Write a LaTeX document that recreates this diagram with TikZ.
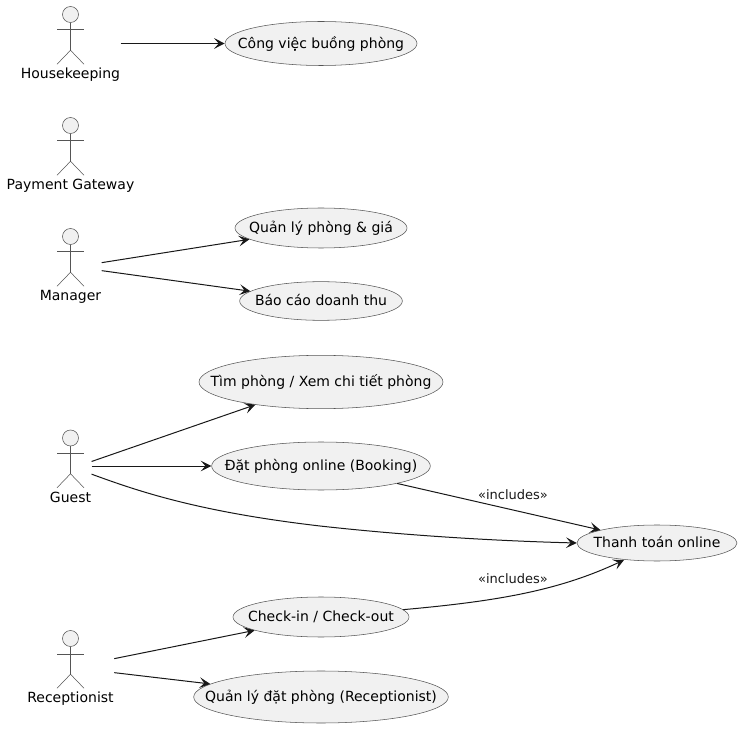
\documentclass[tikz,border=0pt]{standalone}
\usepackage{fontspec}
\setmainfont{DejaVu Sans}
\usetikzlibrary{shapes.geometric, arrows.meta, fit, calc}
\definecolor{linecolor}{HTML}{181818}
\definecolor{edgecolor}{HTML}{555555}
\definecolor{shapecolor}{HTML}{F1F1F1}

% stick figure: name, x, y of the head, label
\newcommand{\actorfig}[4]{
    \node[actorhead] (#1-head) at (#2,#3) {};
    \node[actorname] (#1-name) at (#2,#3+59.5) {#4};
    \draw[actorline] (#1-head.south) -- ++(0,27.5) coordinate (#1-hip);
    \draw[actorline] ($(#1-head.south)+(-13.5,7)$) -- ++(27,0);
    \draw[actorline] ($(#1-hip)+(-13.5,14)$) -- (#1-hip) -- ($(#1-hip)+(13.5,14)$);
    \node[fit=(#1-head)(#1-name), inner sep=0pt] (#1) {};
}

\begin{document}
\begin{tikzpicture}[
    x=0.75pt, y=-0.75pt,
    usecase/.style={ellipse, draw=edgecolor, line width=0.4pt, fill=shapecolor, inner xsep=-25pt, inner ysep=-3pt, text height=10pt, text depth=3.2pt, font=\fontsize{10.5}{12}\selectfont},
    actorhead/.style={circle, draw=edgecolor, line width=0.4pt, fill=shapecolor, minimum size=12pt, inner sep=0pt},
    actorline/.style={draw=edgecolor, line width=0.4pt},
    actorname/.style={inner sep=0pt, text height=10pt, text depth=3.2pt, font=\fontsize{10.5}{12}\selectfont},
    arrow/.style={-{Stealth[length=8pt, width=8pt, inset=3.5pt]}, draw=linecolor, line width=0.75pt},
    linklabel/.style={font=\fontsize{9.75}{11}\selectfont, text=linecolor, inner sep=0pt}
]
    \useasboundingbox (0,0) rectangle (740,731);

    \actorfig{house}{70.5}{14.5}{Housekeeping}
    \actorfig{gateway}{70.5}{125.5}{Payment Gateway}
    \actorfig{manager}{70.5}{236.5}{Manager}
    \actorfig{guest}{70.5}{438}{Guest}
    \actorfig{recept}{70.5}{638.5}{Receptionist}

    \node[usecase, minimum width=144pt, minimum height=33pt] (chores) at (321,43.5) {Công việc buồng phòng};
    \node[usecase, minimum width=129pt, minimum height=30pt] (rooms) at (321,228) {Quản lý phòng \& giá};
    \node[usecase, minimum width=122pt, minimum height=29pt] (report) at (321,301) {Báo cáo doanh thu};
    \node[usecase, minimum width=183pt, minimum height=40pt] (search) at (321,382) {Tìm phòng / Xem chi tiết phòng};
    \node[usecase, minimum width=164pt, minimum height=36pt] (booking) at (321,466) {Đặt phòng online (Booking)};
    \node[usecase, minimum width=120pt, minimum height=27pt] (payment) at (657,543) {Thanh toán online};
    \node[usecase, minimum width=132pt, minimum height=30pt] (checkin) at (321,617) {Check-in / Check-out};
    \node[usecase, minimum width=191pt, minimum height=39pt] (manage) at (321,697) {Quản lý đặt phòng (Receptionist)};

    \draw[arrow] (house.east |- chores) -- (chores);
    \draw[arrow] ([yshift=3pt]manager.east) -- (rooms);
    \draw[arrow] ([yshift=-3pt]manager.east) -- (report);
    \draw[arrow] ([yshift=5pt]guest.east) -- (search);
    \draw[arrow] (guest.east |- booking) -- (booking);
    \draw[arrow] ([yshift=-4.5pt]guest.east) .. controls (140,492) and (200,512) .. (320,526) .. controls (410,536) and (500,541) .. (payment.west);
    \draw[arrow] (booking) -- (payment);
    \draw[arrow] (checkin) .. controls (500,601) and (560,590) .. (624,560);
    \draw[arrow] ([yshift=7.5pt]recept.east) -- (checkin);
    \draw[arrow] ([yshift=-3pt]recept.east) -- (manage);

    \node[linklabel] (bookinglink) at (513,494.5) {«includes»};
    \node[linklabel] (checkinlink) at (513,578.5) {«includes»};
\end{tikzpicture}
\end{document}
